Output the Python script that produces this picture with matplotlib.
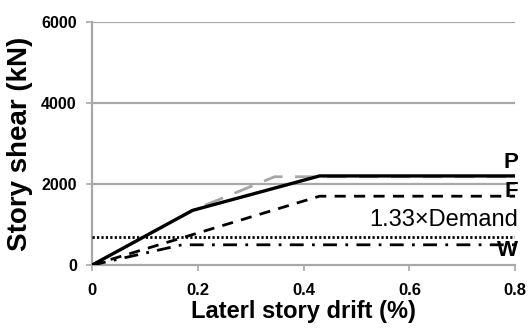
import matplotlib
matplotlib.use("Agg")
import matplotlib.pyplot as plt

# story drift (%) vs story shear (kN)
p_drift = [0, 0.19, 0.43, 0.8]
p_shear = [0, 1350, 2200, 2200]

gray_drift = [0, 0.19, 0.345, 0.8]
gray_shear = [0, 1350, 2180, 2180]

f_drift = [0, 0.43, 0.8]
f_shear = [0, 1700, 1700]

w_drift = [0, 0.17, 0.8]
w_shear = [0, 500, 500]

demand_drift = [0, 0.8]
demand_shear = [700, 700]

xticks = [0, 0.2, 0.4, 0.6, 0.8]
xtick_labels = ["0", "0.2", "0.4", "0.6", "0.8"]
yticks = [0, 2000, 4000, 6000]

plt.rcParams['font.family'] = ['Liberation Sans', 'DejaVu Sans']

fig = plt.figure(figsize=(5.29, 3.33), dpi=100)
ax = fig.add_axes([0.174, 0.204, 0.8, 0.73])

grid_col = '#a8a8a8'
for y in yticks[1:]:
    ax.axhline(y, color=grid_col, lw=1.6, zorder=1)

ax.plot(gray_drift, gray_shear, color='#a6a6a6', lw=2, dashes=(7, 4.5), zorder=2)
ax.plot(p_drift, p_shear, color='black', lw=2.4, zorder=3)
ax.plot(f_drift, f_shear, color='black', lw=2, dashes=(4, 3), zorder=3)
ax.plot(demand_drift, demand_shear, color='black', lw=2, dashes=(0.8, 0.8), zorder=3)
ax.plot(w_drift, w_shear, color='black', lw=2, dashes=(5, 3, 1, 3), zorder=3)

ax.text(0.805, 2520, "P", ha='right', va='center', fontsize=16, fontweight='bold')
ax.text(0.805, 1810, "F", ha='right', va='center', fontsize=16, fontweight='bold')
ax.text(0.805, 1110, "1.33\u00d7Demand", ha='right', va='center', fontsize=17)
ax.text(0.805, 370, "W", ha='right', va='center', fontsize=16, fontweight='bold')

ax.set_xlim(0, 0.8)
ax.set_ylim(0, 6000)
ax.set_xticks(xticks)
ax.set_xticklabels(xtick_labels, fontsize=12, fontweight='bold')
ax.set_yticks(yticks)
ax.set_yticklabels([str(v) for v in yticks], fontsize=11.5, fontweight='bold')
ax.tick_params(axis='both', colors=grid_col, labelcolor='black', length=4, width=1.2)
ax.tick_params(axis='x', pad=9)
ax.tick_params(axis='y', pad=7)

for s in ['top', 'right']:
    ax.spines[s].set_visible(False)
for s in ['left', 'bottom']:
    ax.spines[s].set_color(grid_col)
    ax.spines[s].set_linewidth(1.6)

ax.set_xlabel("Laterl story drift (%)", fontsize=17, fontweight='bold', labelpad=1)
ax.set_ylabel("Story shear (kN)", fontsize=20, fontweight='bold', labelpad=6)

fig.savefig("out.png", dpi=100)
